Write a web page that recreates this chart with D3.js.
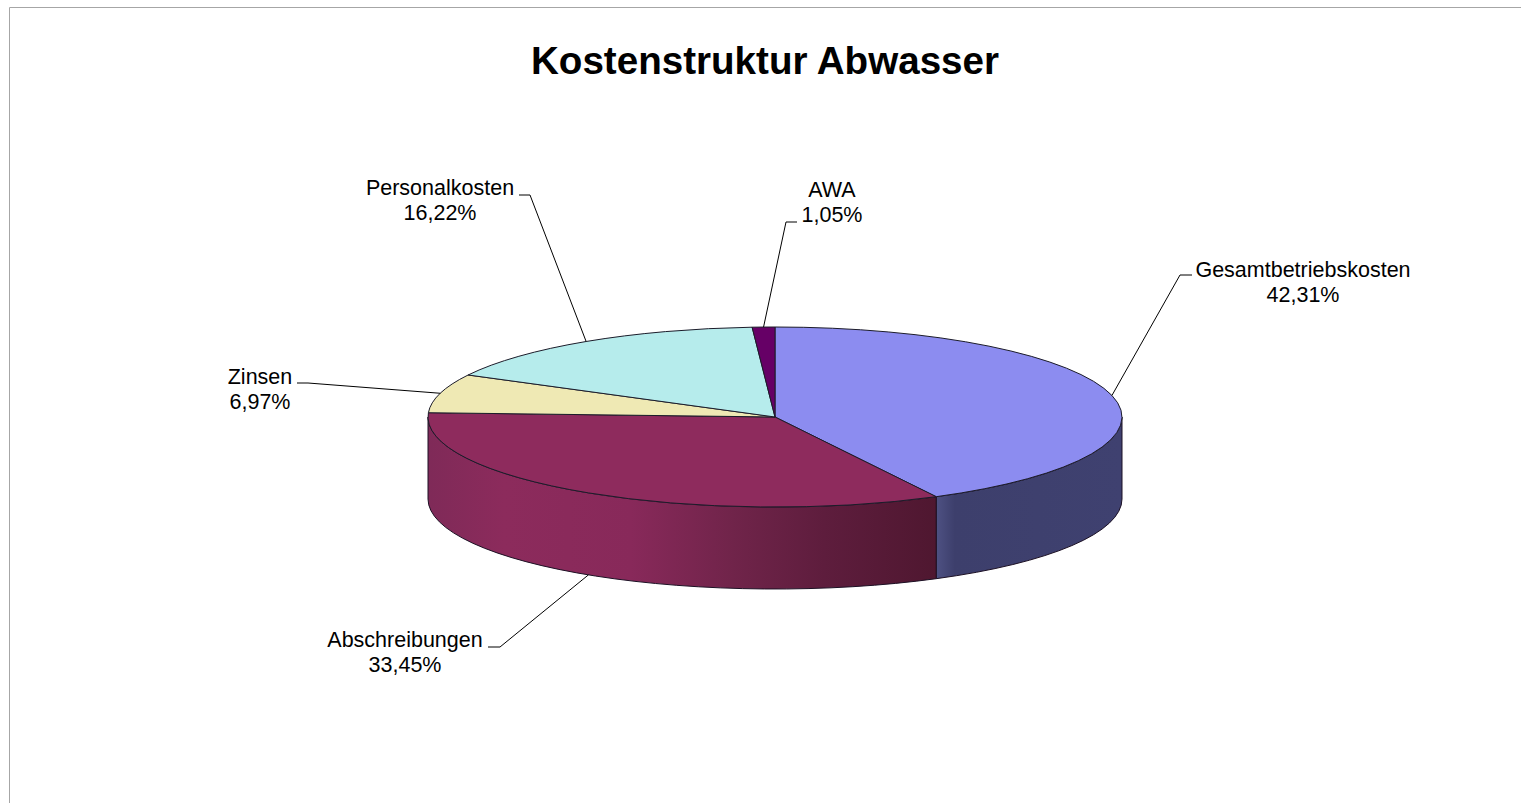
<!DOCTYPE html>
<html>
<head>
<meta charset="utf-8">
<script src="https://cdn.jsdelivr.net/npm/d3@7"></script>
<style>
  html, body { margin: 0; padding: 0; background: #fff; overflow: hidden; }
  svg { display: block; }
  text { font-family: "Liberation Sans", Arial, sans-serif; fill: #000; }
</style>
</head>
<body>
<svg id="chart" width="1521" height="803"></svg>
<script>
// chart data
let categories = ['Gesamtbetriebskosten', 'Abschreibungen', 'Zinsen', 'Personalkosten', 'AWA'];
let shares = [42.31, 33.45, 6.97, 16.22, 1.05];
let title = 'Kostenstruktur Abwasser';

// slice styling, same order as categories
let topColors = ['#8c8cf0', '#8e2b5d', '#efe9b4', '#b6ecec', '#660066'];
let wallStops = [
    [[0, '#4e5183'], [0.1, '#3d3f6c'], [1, '#3f4170']],
    [[0, '#7f2a58'], [0.15, '#8c2b5c'], [0.4, '#88295a'], [0.6, '#70244a'], [0.78, '#5e1d3d'], [1, '#4f1730']],
    [],
    [],
    []
];

// where each label block sits: centre x, first baseline, elbow end of the leader
let labelPlaces = [
    { x: 1303, y: 277, elbow: [1180, 275], end: [1192, 275] },
    { x: 405, y: 647, elbow: [500, 647], end: [488, 647] },
    { x: 260, y: 384, elbow: [308, 383], end: [297, 383] },
    { x: 440, y: 195, elbow: [530, 195], end: [519, 195] },
    { x: 832, y: 197, elbow: [786, 222], end: [797, 222] }
];

let cx = 775, cy = 417, rx = 347, ry = 90, depth = 82;

let x = d3.scaleLinear().domain([-1, 1]).range([cx - rx, cx + rx]);
let y = d3.scaleLinear().domain([-1, 1]).range([cy - ry, cy + ry]);

let pie = d3.pie().sort(null).startAngle(0).endAngle(2 * Math.PI);
let arcs = pie(shares);

let px = a => x(Math.sin(a));
let py = a => y(-Math.cos(a));

function topPath(d) {
    let large = d.endAngle - d.startAngle > Math.PI ? 1 : 0;
    return `M${cx},${cy}L${px(d.startAngle)},${py(d.startAngle)}` +
        `A${rx},${ry} 0 ${large} 1 ${px(d.endAngle)},${py(d.endAngle)}Z`;
}

function wallPath(d) {
    let a0 = Math.max(d.startAngle, Math.PI / 2);
    let a1 = Math.min(d.endAngle, 3 * Math.PI / 2);
    return `M${px(a0)},${py(a0)}A${rx},${ry} 0 0 1 ${px(a1)},${py(a1)}` +
        `L${px(a1)},${py(a1) + depth}A${rx},${ry} 0 0 0 ${px(a0)},${py(a0) + depth}Z`;
}

let svg = d3.select('#chart');
let defs = svg.append('defs');

// frame, only top and left are visible in the picture
svg.append('path')
    .attr('d', 'M9.5,803V7.5H1521')
    .attr('fill', 'none')
    .attr('stroke', '#a6a6a6');

svg.append('text')
    .attr('x', 765)
    .attr('y', 74)
    .attr('text-anchor', 'middle')
    .attr('font-weight', 'bold')
    .attr('font-size', 38.6)
    .text(title);

// side walls first
let walls = arcs
    .map((d, i) => ({ d, i }))
    .filter(o => o.d.endAngle > Math.PI / 2 && o.d.startAngle < 3 * Math.PI / 2);

walls.forEach(o => {
    let a0 = Math.max(o.d.startAngle, Math.PI / 2);
    let a1 = Math.min(o.d.endAngle, 3 * Math.PI / 2);
    let x0 = Math.min(px(a0), px(a1));
    let x1 = Math.max(px(a0), px(a1));
    defs.append('linearGradient')
        .attr('id', 'wall' + o.i)
        .attr('gradientUnits', 'userSpaceOnUse')
        .attr('x1', x0).attr('x2', x1)
        .attr('y1', 0).attr('y2', 0)
        .selectAll('stop')
        .data(wallStops[o.i])
        .enter()
        .append('stop')
        .attr('offset', s => s[0])
        .attr('stop-color', s => s[1]);
});

svg.append('g')
    .selectAll('path')
    .data(walls)
    .enter()
    .append('path')
    .attr('d', o => wallPath(o.d))
    .attr('fill', o => `url(#wall${o.i})`)
    .attr('stroke', '#1c1024')
    .attr('stroke-width', 1);

svg.append('g')
    .selectAll('path')
    .data(arcs)
    .enter()
    .append('path')
    .attr('d', topPath)
    .attr('fill', (d, i) => topColors[i])
    .attr('stroke', '#1c1c2a')
    .attr('stroke-width', 1)
    .attr('stroke-linejoin', 'round');

// leader lines start on the rim at the middle of each slice
let leader = d3.line();

svg.append('g')
    .selectAll('path')
    .data(arcs)
    .enter()
    .append('path')
    .attr('fill', 'none')
    .attr('stroke', '#000')
    .attr('stroke-width', 1)
    .attr('d', (d, i) => {
        let mid = (d.startAngle + d.endAngle) / 2;
        let front = mid > Math.PI / 2 && mid < 3 * Math.PI / 2;
        let p = labelPlaces[i];
        return leader([[px(mid), py(mid) + (front ? depth : 0)], p.elbow, p.end]);
    });

let labels = svg.append('g')
    .selectAll('text')
    .data(arcs)
    .enter()
    .append('text')
    .attr('text-anchor', 'middle')
    .attr('font-size', 21.5);

labels.append('tspan')
    .attr('x', (d, i) => labelPlaces[i].x)
    .attr('y', (d, i) => labelPlaces[i].y)
    .text((d, i) => categories[i]);

labels.append('tspan')
    .attr('x', (d, i) => labelPlaces[i].x)
    .attr('y', (d, i) => labelPlaces[i].y + 25)
    .text((d, i) => shares[i].toFixed(2).replace('.', ',') + '%');
</script>
</body>
</html>
